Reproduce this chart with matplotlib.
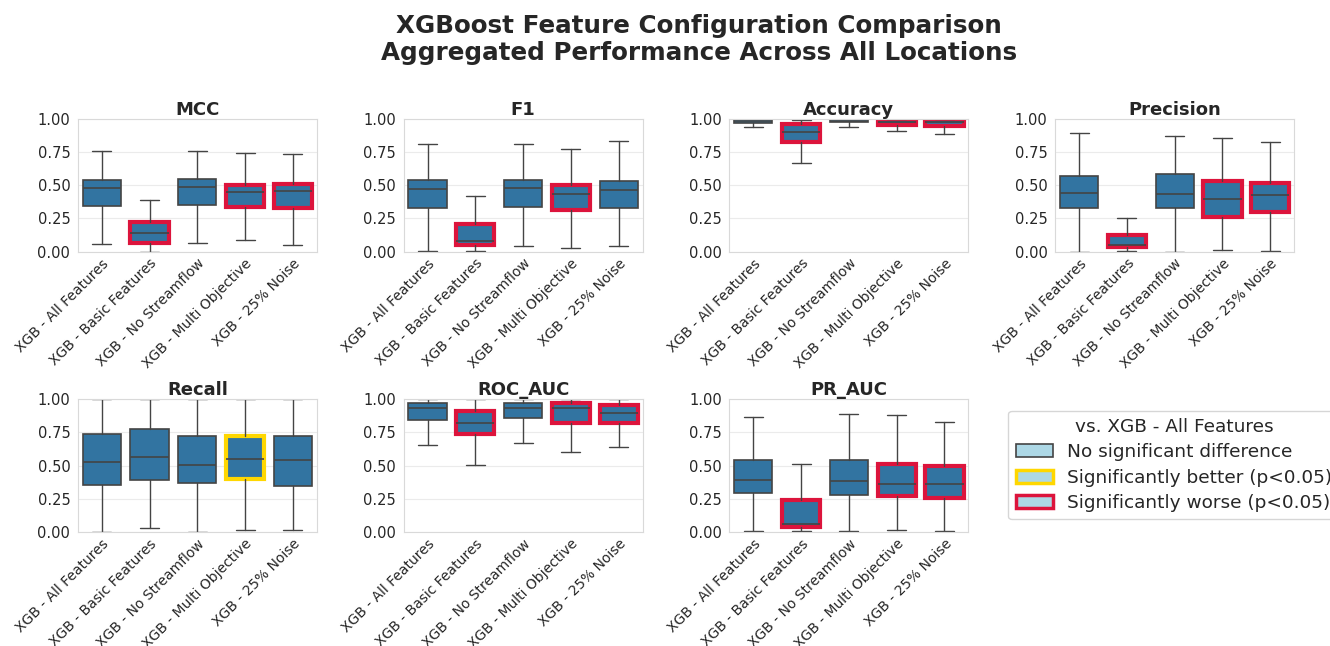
import matplotlib
matplotlib.use("Agg")
import matplotlib.pyplot as plt
import seaborn as sns
from matplotlib.patches import Patch

sns.set_style("whitegrid")
plt.rcParams['font.family'] = ['DejaVu Sans']

configs = ["XGB - All Features", "XGB - Basic Features", "XGB - No Streamflow",
           "XGB - Multi Objective", "XGB - 25% Noise"]
metrics = ["MCC", "F1", "Accuracy", "Precision", "Recall", "ROC_AUC", "PR_AUC"]

# per config: (whisker low, q1, median, q3, whisker high)
mcc = [(0.055, 0.345, 0.479, 0.537, 0.756),
       (0.000, 0.063, 0.141, 0.222, 0.388),
       (0.065, 0.350, 0.484, 0.544, 0.761),
       (0.086, 0.340, 0.448, 0.506, 0.741),
       (0.050, 0.330, 0.456, 0.511, 0.733)]
f1 = [(0.008, 0.327, 0.471, 0.539, 0.811),
      (0.008, 0.053, 0.078, 0.209, 0.421),
      (0.043, 0.340, 0.479, 0.539, 0.814),
      (0.028, 0.315, 0.438, 0.501, 0.773),
      (0.043, 0.332, 0.463, 0.531, 0.831)]
accuracy = [(0.940, 0.970, 0.985, 1.000, 1.000),
            (0.665, 0.826, 0.902, 0.960, 0.990),
            (0.942, 0.975, 0.987, 1.000, 1.000),
            (0.907, 0.955, 0.977, 0.998, 1.000),
            (0.887, 0.947, 0.975, 0.997, 1.000)]
precision = [(0.000, 0.330, 0.441, 0.567, 0.894),
             (0.005, 0.033, 0.048, 0.123, 0.257),
             (0.000, 0.330, 0.436, 0.584, 0.874),
             (0.013, 0.264, 0.400, 0.531, 0.856),
             (0.008, 0.300, 0.428, 0.521, 0.824)]
recall = [(0.000, 0.356, 0.528, 0.740, 1.000),
          (0.028, 0.389, 0.568, 0.778, 1.000),
          (0.000, 0.371, 0.508, 0.725, 1.000),
          (0.018, 0.399, 0.551, 0.725, 1.000),
          (0.015, 0.343, 0.545, 0.727, 1.000)]
roc_auc = [(0.657, 0.846, 0.934, 0.972, 1.000),
           (0.508, 0.742, 0.818, 0.909, 1.000),
           (0.674, 0.856, 0.937, 0.972, 1.000),
           (0.606, 0.821, 0.932, 0.970, 1.000),
           (0.644, 0.823, 0.894, 0.955, 1.000)]
pr_auc = [(0.010, 0.295, 0.389, 0.542, 0.870),
          (0.010, 0.036, 0.059, 0.244, 0.514),
          (0.010, 0.282, 0.384, 0.542, 0.893),
          (0.013, 0.272, 0.359, 0.511, 0.880),
          (0.010, 0.254, 0.359, 0.501, 0.832)]

# significance vs. All Features: 0 none, 1 better, -1 worse
sig_mcc = [0, -1, 0, -1, -1]
sig_f1 = [0, -1, 0, -1, 0]
sig_accuracy = [0, -1, 0, -1, -1]
sig_precision = [0, -1, 0, -1, -1]
sig_recall = [0, 0, 0, 1, 0]
sig_roc_auc = [0, -1, 0, -1, -1]
sig_pr_auc = [0, -1, 0, -1, -1]

data = [mcc, f1, accuracy, precision, recall, roc_auc, pr_auc]
sigs = [sig_mcc, sig_f1, sig_accuracy, sig_precision, sig_recall, sig_roc_auc, sig_pr_auc]

box_color = "#3274a1"
line_color = "#444444"
edge_map = {0: line_color, 1: "#FFD700", -1: "#DC143C"}
lw_map = {0: 1.2, 1: 3.0, -1: 3.0}
text_color = "#262626"

fig, axes = plt.subplots(2, 4, figsize=(13.3, 6.46), dpi=100)
fig.subplots_adjust(left=0.0586, right=0.973, top=0.8158, bottom=0.1765,
                    wspace=0.364, hspace=1.113)

for idx, ax in enumerate(axes.flat):
    if idx >= len(metrics):
        ax.axis("off")
        continue
    stats = []
    for cfg, (lo, q1, med, q3, hi) in zip(configs, data[idx]):
        stats.append(dict(label=cfg, whislo=lo, q1=q1, med=med, q3=q3, whishi=hi, fliers=[]))
    bp = ax.bxp(stats, positions=range(len(configs)), widths=0.8, patch_artist=True,
                showfliers=False, capwidths=0.4,
                boxprops=dict(facecolor=box_color, edgecolor=line_color, linewidth=1.2),
                whiskerprops=dict(color=line_color, linewidth=1.0),
                capprops=dict(color=line_color, linewidth=1.0),
                medianprops=dict(color=line_color, linewidth=1.2))
    for patch, s in zip(bp["boxes"], sigs[idx]):
        patch.set_edgecolor(edge_map[s])
        patch.set_linewidth(lw_map[s])
    ax.set_xlim(-0.5, len(configs) - 0.5)
    ax.set_ylim(0, 1.0)
    ax.set_yticks([0, 0.25, 0.5, 0.75, 1.0])
    ax.set_yticklabels(["0.00", "0.25", "0.50", "0.75", "1.00"])
    ax.set_xticks(range(len(configs)))
    ax.set_xticklabels(configs, rotation=45, ha="right", va="top", rotation_mode="anchor")
    ax.tick_params(axis="y", labelsize=10.5, colors=text_color, pad=2)
    ax.tick_params(axis="x", labelsize=10, colors=text_color, pad=0)
    ax.grid(axis="x", visible=False)
    ax.grid(axis="y", color="#ebebeb", linewidth=0.8)
    for sp in ax.spines.values():
        sp.set_color("#d9d9d9")
    ax.set_title(metrics[idx], fontsize=13, fontweight="bold", color=text_color, pad=3)

handles = [Patch(facecolor="lightblue", edgecolor=line_color, linewidth=1.2, label="No significant difference"),
           Patch(facecolor="lightblue", edgecolor="#FFD700", linewidth=2.5, label="Significantly better (p<0.05)"),
           Patch(facecolor="lightblue", edgecolor="#DC143C", linewidth=2.5, label="Significantly worse (p<0.05)")]
leg = fig.legend(handles=handles, loc="center left", bbox_to_anchor=(999 / 1330, 1 - 465 / 646),
                 title="vs. XGB - All Features", fontsize=13.3, title_fontsize=13.3, frameon=True,
                 borderpad=0.4, labelspacing=0.4, handletextpad=0.8)
for t in leg.get_texts():
    t.set_color(text_color)
leg.get_title().set_color(text_color)

fig.suptitle("XGBoost Feature Configuration Comparison\nAggregated Performance Across All Locations",
             x=699 / 1330, y=0.979, fontsize=17.7, fontweight="bold", color=text_color)

fig.savefig("out.png", dpi=100)
